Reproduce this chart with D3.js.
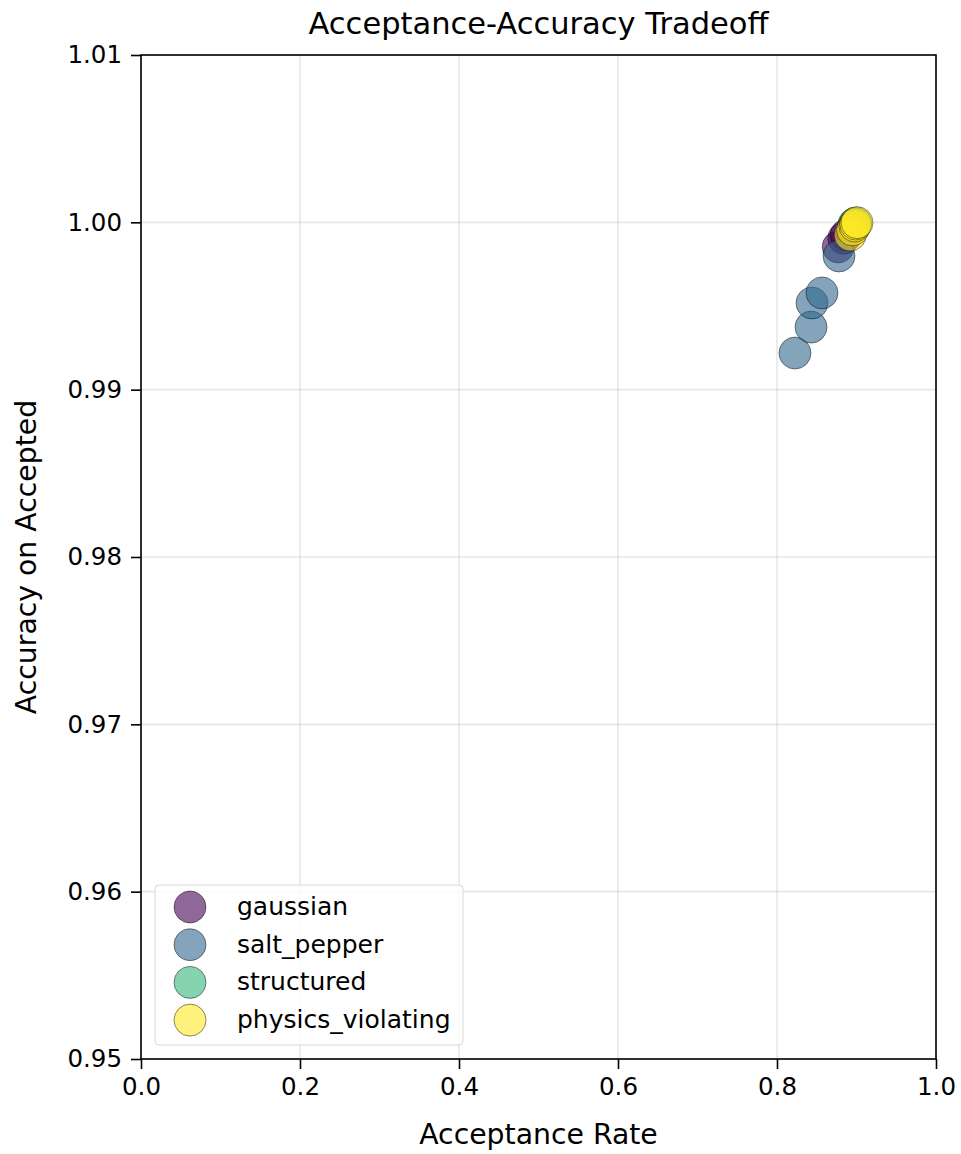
<!DOCTYPE html>
<html>
<head>
<meta charset="utf-8">
<script src="https://cdn.jsdelivr.net/npm/d3@7"></script>
<style>
  body { margin: 0; background: #fff; }
  svg { font-family: "DejaVu Sans", sans-serif; }
</style>
</head>
<body>
<svg id="chart" width="961" height="1154"></svg>
<script>
// Noise types, drawn in this order
const categories = ["gaussian", "salt_pepper", "structured", "physics_violating"];
const colors = ["#440154", "#31688e", "#35b779", "#fde725"];

// Acceptance rate / accuracy-on-accepted pairs per noise type
const gaussianRate = [0.877, 0.884, 0.887, 0.896];
const gaussianAcc  = [0.99853, 0.99905, 0.99924, 0.99972];

const saltPepperRate = [0.8226, 0.8428, 0.8440, 0.8566, 0.8780];
const saltPepperAcc  = [0.99219, 0.99374, 0.99518, 0.99578, 0.99799];

const structuredRate = [0.897, 0.899];
const structuredAcc  = [0.99990, 0.99996];

const physicsRate = [0.892, 0.895, 0.898, 0.899, 0.9006];
const physicsAcc  = [0.99924, 0.99955, 0.99978, 0.99990, 0.99998];

const xTicks = [0.0, 0.2, 0.4, 0.6, 0.8, 1.0];
const yTicks = [0.95, 0.96, 0.97, 0.98, 0.99, 1.00, 1.01];

const series = [
  { name: categories[0], rate: gaussianRate, acc: gaussianAcc, color: colors[0] },
  { name: categories[1], rate: saltPepperRate, acc: saltPepperAcc, color: colors[1] },
  { name: categories[2], rate: structuredRate, acc: structuredAcc, color: colors[2] },
  { name: categories[3], rate: physicsRate, acc: physicsAcc, color: colors[3] }
];

const svg = d3.select("#chart");
const plotL = 141, plotR = 936, plotT = 55, plotB = 1059;

const x = d3.scaleLinear().domain([0, 1]).range([plotL, plotR]);
const y = d3.scaleLinear().domain([0.95, 1.01]).range([plotB, plotT]);

// grid
const grid = svg.append("g");
grid.selectAll(".gx").data(xTicks).join("line")
  .attr("x1", d => x(d)).attr("x2", d => x(d))
  .attr("y1", plotT).attr("y2", plotB)
  .attr("stroke", "#b0b0b0").attr("stroke-opacity", 0.3).attr("stroke-width", 1.6);
grid.selectAll(".gy").data(yTicks).join("line")
  .attr("x1", plotL).attr("x2", plotR)
  .attr("y1", d => y(d)).attr("y2", d => y(d))
  .attr("stroke", "#b0b0b0").attr("stroke-opacity", 0.3).attr("stroke-width", 1.6);

// points
const R = 16;
series.forEach(s => {
  svg.append("g").selectAll("circle")
    .data(s.rate.map((r, i) => [r, s.acc[i]]))
    .join("circle")
    .attr("cx", d => x(d[0]))
    .attr("cy", d => y(d[1]))
    .attr("r", R)
    .attr("fill", s.color)
    .attr("fill-opacity", 0.6)
    .attr("stroke", "#000")
    .attr("stroke-opacity", 0.45)
    .attr("stroke-width", 1);
});

// axes
const xAxis = svg.append("g").attr("transform", `translate(0,${plotB})`)
  .call(d3.axisBottom(x).tickValues(xTicks).tickFormat(d3.format(".1f")).tickSize(10).tickPadding(9));
const yAxis = svg.append("g").attr("transform", `translate(${plotL},0)`)
  .call(d3.axisLeft(y).tickValues(yTicks).tickFormat(d3.format(".2f")).tickSize(10).tickPadding(9));
[xAxis, yAxis].forEach(a => {
  a.select(".domain").remove();
  a.selectAll(".tick line").attr("stroke", "#000").attr("stroke-width", 1.6);
  a.selectAll(".tick text").attr("font-size", 24.5).attr("fill", "#000")
    .attr("font-family", "DejaVu Sans, sans-serif");
});

// frame
svg.append("rect")
  .attr("x", plotL).attr("y", plotT)
  .attr("width", plotR - plotL).attr("height", plotB - plotT)
  .attr("fill", "none").attr("stroke", "#000").attr("stroke-width", 1.6);

// title and axis labels
svg.append("text").attr("x", (plotL + plotR) / 2).attr("y", 34)
  .attr("text-anchor", "middle").attr("font-size", 30.5).text("Acceptance-Accuracy Tradeoff");
svg.append("text").attr("x", (plotL + plotR) / 2).attr("y", 1144)
  .attr("text-anchor", "middle").attr("font-size", 28.3).text("Acceptance Rate");
svg.append("text")
  .attr("transform", `translate(36,${(plotT + plotB) / 2}) rotate(-90)`)
  .attr("text-anchor", "middle").attr("font-size", 28.3).text("Accuracy on Accepted");

// legend
const lg = svg.append("g").attr("transform", "translate(155,885)");
lg.append("rect").attr("width", 308).attr("height", 160).attr("rx", 4)
  .attr("fill", "#fff").attr("fill-opacity", 0.8)
  .attr("stroke", "#d8d8d8").attr("stroke-width", 1);
series.forEach((s, i) => {
  const cy = 22 + i * 37.7;
  lg.append("circle").attr("cx", 35).attr("cy", cy).attr("r", R)
    .attr("fill", s.color).attr("fill-opacity", 0.6)
    .attr("stroke", "#000").attr("stroke-opacity", 0.45).attr("stroke-width", 1);
  lg.append("text").attr("x", 82).attr("y", cy + 8)
    .attr("font-size", 25).text(s.name);
});
</script>
</body>
</html>
